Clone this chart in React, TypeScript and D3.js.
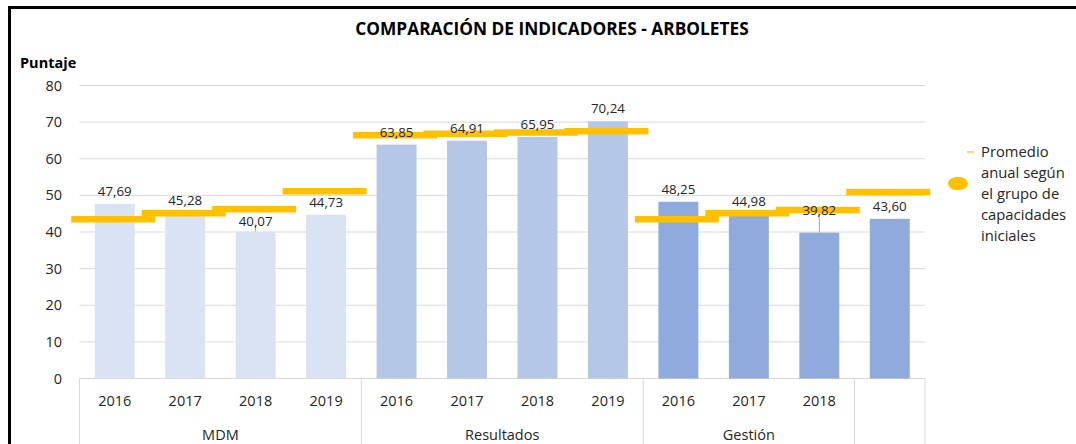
import React from "react";
import * as d3 from "d3";

const years = ["2016", "2017", "2018", "2019", "2016", "2017", "2018", "2019", "2016", "2017", "2018", ""];
const groupNames = ["MDM", "Resultados", "Gestión"];
const groupSizes = [4, 4, 3];
const barGroup = [0, 0, 0, 0, 1, 1, 1, 1, 2, 2, 2, 2];
const scores = [47.69, 45.28, 40.07, 44.73, 63.85, 64.91, 65.95, 70.24, 48.25, 44.98, 39.82, 43.6];
const groupAverage = [43.5, 45.1, 46.2, 51.1, 66.4, 66.8, 67.2, 67.5, 43.5, 45.1, 46.0, 50.9];
const yTicks = [0, 10, 20, 30, 40, 50, 60, 70, 80];
const legendLines = ["Promedio", "anual según", "el grupo de", "capacidades", "iniciales"];

const groupColors = ["#DAE3F3", "#B4C7E7", "#8FAADC"];
const labelLift: Record<number, number> = { 2: 10.8, 10: 22 };
const FONT = "'Open Sans', 'Noto Sans', sans-serif";
const TXT = "#262626";

export default function App() {
  const left = 79.5;
  const right = 925;
  const x = d3
    .scaleBand<number>()
    .domain(d3.range(scores.length))
    .range([left, right])
    .paddingInner(0.433)
    .paddingOuter(0.2165);
  const y = d3.scaleLinear().domain([0, 80]).range([378.5, 85.5]);
  const step = x.step();
  const fmt = (v: number) => v.toFixed(2).replace(".", ",");

  const sepIdx: number[] = [0];
  let acc = 0;
  groupSizes.forEach((s) => {
    acc += s;
    sepIdx.push(acc);
  });
  sepIdx.push(scores.length);
  const sepX = Array.from(new Set(sepIdx)).map((i) => left + i * step);

  const groupStarts: number[] = [];
  let st = 0;
  groupSizes.forEach((s) => {
    groupStarts.push(st);
    st += s;
  });

  return (
    <svg
      width={1076}
      height={444}
      style={{ position: "fixed", left: 0, top: 0, background: "#fff" }}
      fontFamily={FONT}
    >
      <rect x={0} y={0} width={1076} height={444} fill="#fff" />
      <rect x={9.5} y={7.5} width={1200} height={600} fill="none" stroke="#000" strokeWidth={3} />

      <text x={552} y={34.5} textAnchor="middle" fontWeight="bold" fontSize={17.3} fill="#000">
        COMPARACIÓN DE INDICADORES - ARBOLETES
      </text>
      <text x={20} y={68} fontWeight="bold" fontSize={14.5} fill="#000">
        Puntaje
      </text>

      {yTicks.map((t) => (
        <g key={t}>
          <line x1={left} x2={right} y1={y(t)} y2={y(t)} stroke="#D9D9D9" strokeWidth={1} />
          <text x={62} y={y(t) + 5} textAnchor="end" fontSize={14.5} fill={TXT}>
            {t}
          </text>
        </g>
      ))}

      {sepX.map((sx, i) => (
        <line key={i} x1={sx} x2={sx} y1={y(0)} y2={444} stroke="#D9D9D9" strokeWidth={1} />
      ))}

      {scores.map((v, i) => (
        <rect
          key={i}
          x={x(i)}
          y={y(v)}
          width={x.bandwidth()}
          height={y(0) - y(v)}
          fill={groupColors[barGroup[i]]}
        />
      ))}

      {groupAverage.map((v, i) => {
        const cx = (x(i) as number) + x.bandwidth() / 2 - 1.5;
        return (
          <line
            key={i}
            x1={cx - 42}
            x2={cx + 42}
            y1={y(v)}
            y2={y(v)}
            stroke="#FFC000"
            strokeWidth={6.5}
          />
        );
      })}

      {scores.map((v, i) => {
        const cx = (x(i) as number) + x.bandwidth() / 2;
        const lift = labelLift[i] ?? 12.5;
        const cy = y(v) - lift;
        return (
          <g key={i}>
            {labelLift[i] !== undefined && (
              <line x1={cx} x2={cx} y1={cy + 5} y2={y(v)} stroke="#A6A6A6" strokeWidth={1} />
            )}
            <text x={cx} y={cy + 4.7} textAnchor="middle" fontSize={13.3} fill={TXT}>
              {fmt(v)}
            </text>
          </g>
        );
      })}

      {years.map((yr, i) => (
        <text
          key={i}
          x={(x(i) as number) + x.bandwidth() / 2}
          y={406}
          textAnchor="middle"
          fontSize={14.5}
          fill={TXT}
        >
          {yr}
        </text>
      ))}

      {groupNames.map((g, gi) => {
        const x0 = left + groupStarts[gi] * step;
        const x1 = x0 + groupSizes[gi] * step;
        return (
          <text key={g} x={(x0 + x1) / 2} y={440} textAnchor="middle" fontSize={14.5} fill={TXT}>
            {g}
          </text>
        );
      })}

      <line x1={967} x2={974} y1={152} y2={152} stroke="#FFC000" strokeWidth={1.2} />
      <ellipse cx={958} cy={183.5} rx={10} ry={6.7} fill="#FFC000" />
      {legendLines.map((l, i) => (
        <text key={i} x={981} y={157 + i * 21} fontSize={14.8} fill={TXT}>
          {l}
        </text>
      ))}
    </svg>
  );
}
